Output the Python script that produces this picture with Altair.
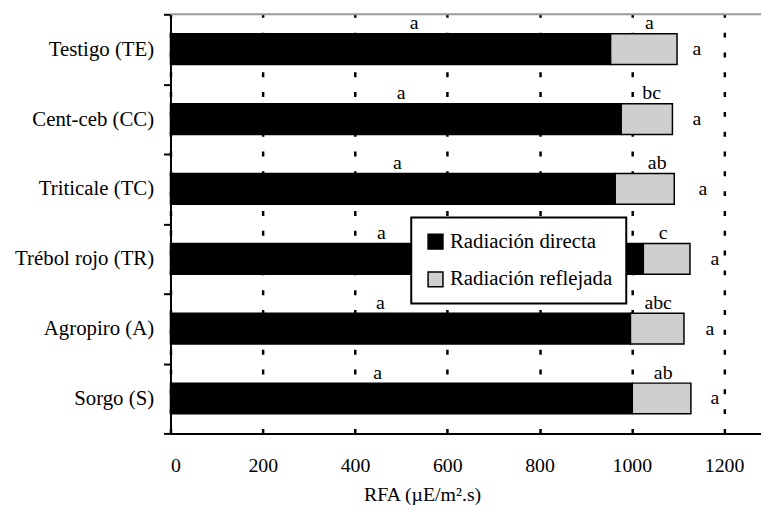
import altair as alt
import pandas as pd

categories = ["Testigo (TE)", "Cent-ceb (CC)", "Triticale (TC)",
              "Trébol rojo (TR)", "Agropiro (A)", "Sorgo (S)"]
direct = [954, 977, 964, 1025, 997, 1001]
total = [1098, 1088, 1092, 1126, 1113, 1128]
direct_letters = ["a", "a", "a", "a", "a", "a"]
direct_letter_x = [528, 500, 492, 457, 455, 449]
refl_letters = ["a", "bc", "ab", "c", "abc", "ab"]
refl_letter_x = [1038, 1043, 1055, 1068, 1057, 1068]
total_letters = ["a", "a", "a", "a", "a", "a"]
total_letter_x = [1141, 1141, 1154, 1180, 1169, 1180]
series = ["Radiación directa", "Radiación reflejada"]
x_ticks = [0, 200, 400, 600, 800, 1000, 1200]

FONT = "Liberation Serif"
W, H = 596, 423

rows = []
for c, d, t in zip(categories, direct, total):
    rows.append({"cat": c, "serie": series[0], "start": 0, "end": d})
    rows.append({"cat": c, "serie": series[1], "start": d, "end": t})
bars_df = pd.DataFrame(rows)

top_rows = []
for c, l, x in zip(categories, direct_letters, direct_letter_x):
    top_rows.append({"cat": c, "letter": l, "x": x})
for c, l, x in zip(categories, refl_letters, refl_letter_x):
    top_rows.append({"cat": c, "letter": l, "x": x})
top_df = pd.DataFrame(top_rows)
right_df = pd.DataFrame({"cat": categories, "letter": total_letters, "x": total_letter_x})

yenc = alt.Y("cat:N", sort=categories,
             scale=alt.Scale(paddingInner=0, paddingOuter=0),
             axis=alt.Axis(title=None, tickBand="extent", labelFont=FONT, labelFontSize=21,
                           labelColor="black", labelPadding=10, tickSize=7, tickWidth=2,
                           tickColor="black", domainColor="black", domainWidth=2, grid=False,
                           labelLimit=300))
xscale = alt.Scale(domain=[0, 1280], nice=False, zero=True)

bars = alt.Chart(bars_df).mark_bar(size=31, stroke="black", strokeWidth=1.5).encode(
    x=alt.X("start:Q", scale=xscale,
            axis=alt.Axis(values=x_ticks, format="d", title="RFA (µE/m².s)", ticks=False,
                          labelFont=FONT, labelFontSize=20, labelColor="black",
                          labelPadding=22, domainColor="black", domainWidth=2,
                          grid=True, gridColor="black", gridWidth=2.5, gridDash=[5, 15],
                          gridOpacity=1, titleFont=FONT, titleFontSize=20,
                          titleFontWeight="normal", titleColor="black",
                          titleX=254, titleY=68, titleAlign="center",
                          titleBaseline="alphabetic")),
    x2="end:Q",
    y=yenc,
    color=alt.Color("serie:N", scale=alt.Scale(domain=series, range=["black", "#cfcfcf"]),
                    legend=alt.Legend(title=None, orient="none", legendX=243, legendY=205,
                                      fillColor="white", strokeColor="black", padding=14,
                                      rowPadding=16, symbolType="square", symbolSize=225,
                                      symbolStrokeColor="black", symbolStrokeWidth=1.5,
                                      labelFont=FONT, labelFontSize=21, labelColor="black",
                                      labelOffset=4, labelLimit=400)),
)

top_line = alt.Chart(pd.DataFrame({"v": [0]})).mark_rule(color="#999999", strokeWidth=2).encode(
    x=alt.value(0), x2=alt.value(W), y=alt.value(0))

halo = alt.Chart(top_df).mark_text(font=FONT, fontSize=20, baseline="alphabetic", dy=-20,
                                   fill="white", stroke="white", strokeWidth=6,
                                   strokeJoin="round").encode(
    x=alt.X("x:Q", scale=xscale), y=alt.Y("cat:N", sort=categories), text="letter:N")
top_text = alt.Chart(top_df).mark_text(font=FONT, fontSize=20, baseline="alphabetic", dy=-20,
                                       color="black").encode(
    x=alt.X("x:Q", scale=xscale), y=alt.Y("cat:N", sort=categories), text="letter:N")
right_text = alt.Chart(right_df).mark_text(font=FONT, fontSize=20, baseline="alphabetic", dy=6,
                                           color="black").encode(
    x=alt.X("x:Q", scale=xscale), y=alt.Y("cat:N", sort=categories), text="letter:N")

chart = alt.layer(bars, top_line, halo, top_text, right_text).properties(
    width=W, height=H,
    autosize=alt.AutoSizeParams(type="none"),
    padding={"left": 164, "top": 4, "right": 0, "bottom": 80},
).configure_view(strokeWidth=0).configure_legend(strokeWidth=2)

chart.save("out.html", embed_options={"renderer": "svg", "actions": False})
